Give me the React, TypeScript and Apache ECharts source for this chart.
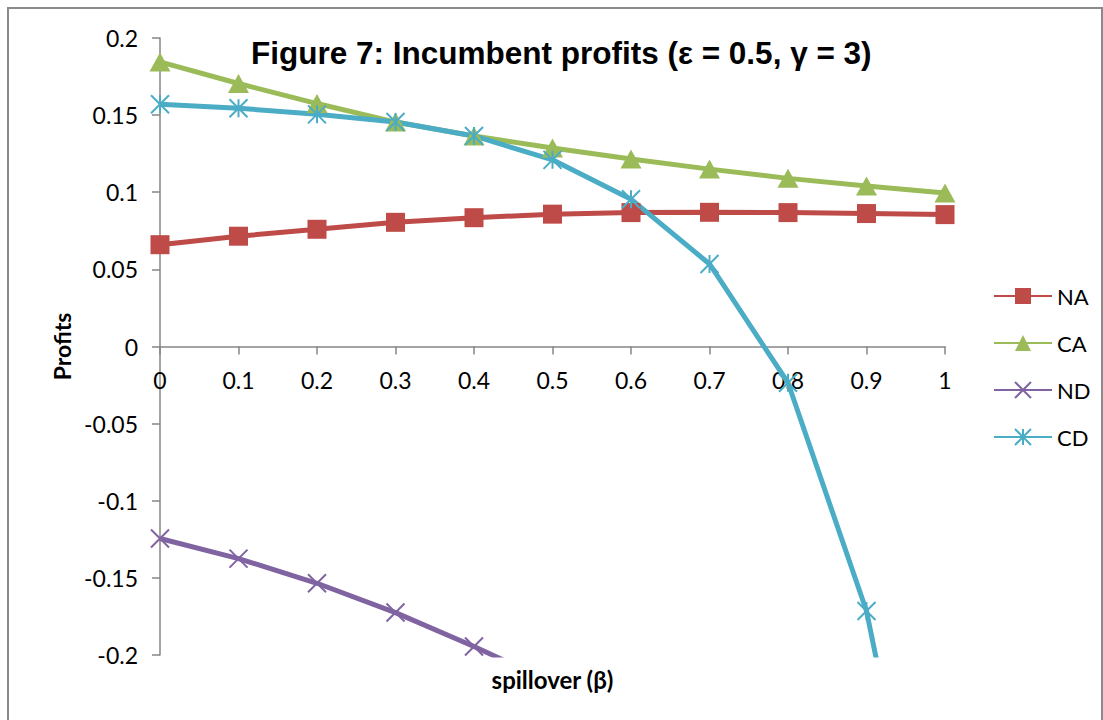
import React, { useEffect, useRef } from "react";
import * as echarts from "echarts";

const beta = [0, 0.1, 0.2, 0.3, 0.4, 0.5, 0.6, 0.7, 0.8, 0.9, 1];
const naValues = [0.066, 0.0715, 0.076, 0.0805, 0.0835, 0.0858, 0.0868, 0.087, 0.0868, 0.0862, 0.0855];
const caValues = [0.1845, 0.1705, 0.1575, 0.1455, 0.1365, 0.1287, 0.1216, 0.115, 0.109, 0.104, 0.0995];
const ndValues: (number | null)[] = [-0.1245, -0.1375, -0.1535, -0.1725, -0.1945, -0.218, null, null, null, null, null];
const cdValues = [0.157, 0.1545, 0.1505, 0.1455, 0.1365, 0.121, 0.0955, 0.0535, -0.0235, -0.1715, -0.42];
const yTicks = ["-0.2", "-0.15", "-0.1", "-0.05", "0", "0.05", "0.1", "0.15", "0.2"];
const yMin = -0.2;
const yMax = 0.2;

const titleText = "Figure 7: Incumbent profits (\u03b5 = 0.5, \u03b3 = 3)";

const crossPath = "path://M0,0L10,10M10,0L0,10";
const starPath = "path://M0,0L10,10M10,0L0,10M5,0L5,10";

export default function App() {
  const ref = useRef<HTMLDivElement>(null);
  useEffect(() => {
    if (!ref.current) return;
    const chart = echarts.init(ref.current, null, { renderer: "svg" });
    const mk = (vals: (number | null)[]) => beta.map((b, i) => [b, vals[i]]);
    const labelFont = { fontFamily: "Lato", fontSize: 23, color: "#000" };
    const gridTop = 38;
    const gridBottom = 65;
    const plotH = 720 - gridTop - gridBottom;
    // shift the x axis up so that it crosses the y axis at zero
    const zeroOffset = -plotH * (0 - yMin) / (yMax - yMin);
    chart.setOption({
      animation: false,
      backgroundColor: "#fff",
      title: {
        text: titleText,
        left: 246,
        top: 32,
        textStyle: { fontFamily: "Liberation Sans", fontWeight: "bold", fontSize: 31.5, color: "#000" },
      },
      grid: { left: 160, right: 158, top: gridTop, bottom: gridBottom, containLabel: false, outerBoundsMode: "none" },
      legend: {
        orient: "vertical",
        left: 988,
        top: 280,
        itemWidth: 58,
        itemHeight: 20,
        itemGap: 25,
        textStyle: { fontFamily: "Lato", fontSize: 22, color: "#000", lineHeight: 20 },
        data: ["NA", "CA", "ND", "CD"],
      },
      xAxis: {
        type: "value",
        min: 0,
        max: 1,
        interval: 0.1,
        offset: zeroOffset,
        name: "spillover (\u03b2)",
        nameLocation: "middle",
        nameGap: 321,
        nameTextStyle: { fontFamily: "Lato", fontWeight: "bold", fontSize: 24, color: "#000" },
        axisLine: { onZero: false, lineStyle: { color: "#868686", width: 1.5 } },
        axisTick: { show: true, length: 8, lineStyle: { color: "#868686", width: 1.5 } },
        axisLabel: {
          ...labelFont,
          margin: 22,
          formatter: (v: number) => beta.map(String)[Math.round(v * 10)],
        },
        splitLine: { show: false },
      },
      yAxis: {
        type: "value",
        min: yMin,
        max: yMax,
        interval: 0.05,
        name: "Profits",
        nameLocation: "middle",
        nameGap: 87,
        nameTextStyle: { fontFamily: "Lato", fontWeight: "bold", fontSize: 23, color: "#000" },
        axisLine: { onZero: false, lineStyle: { color: "#868686", width: 1.5 } },
        axisTick: { show: true, length: 8, lineStyle: { color: "#868686", width: 1.5 } },
        axisLabel: {
          ...labelFont,
          margin: 22,
          formatter: (v: number) => yTicks[Math.round((v - yMin) / 0.05)],
        },
        splitLine: { show: false },
      },
      graphic: [
        {
          type: "rect",
          shape: { x: 8, y: 8, width: 1094, height: 760 },
          style: { fill: "none", stroke: "#8a8a8a", lineWidth: 2 },
          silent: true,
          z: -10,
        },
      ],
      series: [
        {
          name: "NA",
          type: "line",
          data: mk(naValues),
          symbol: "rect",
          symbolSize: 19,
          lineStyle: { color: "#BE4B48", width: 5 },
          itemStyle: { color: "#BE4B48" },
        },
        {
          name: "CA",
          type: "line",
          data: mk(caValues),
          symbol: "triangle",
          symbolSize: [21, 19],
          lineStyle: { color: "#9BBB59", width: 5 },
          itemStyle: { color: "#9BBB59" },
        },
        {
          name: "ND",
          type: "line",
          data: mk(ndValues),
          symbol: crossPath,
          symbolSize: 18,
          lineStyle: { color: "#8064A2", width: 5 },
          itemStyle: { color: "#8064A2", borderColor: "#8064A2", borderWidth: 2 },
        },
        {
          name: "CD",
          type: "line",
          data: mk(cdValues),
          symbol: starPath,
          symbolSize: 18,
          lineStyle: { color: "#4BACC6", width: 5 },
          itemStyle: { color: "#4BACC6", borderColor: "#4BACC6", borderWidth: 2 },
        },
      ],
    });
    return () => chart.dispose();
  }, []);
  return (
    <div
      ref={ref}
      style={{ position: "absolute", left: 0, top: 0, width: 1103, height: 720 }}
    />
  );
}
